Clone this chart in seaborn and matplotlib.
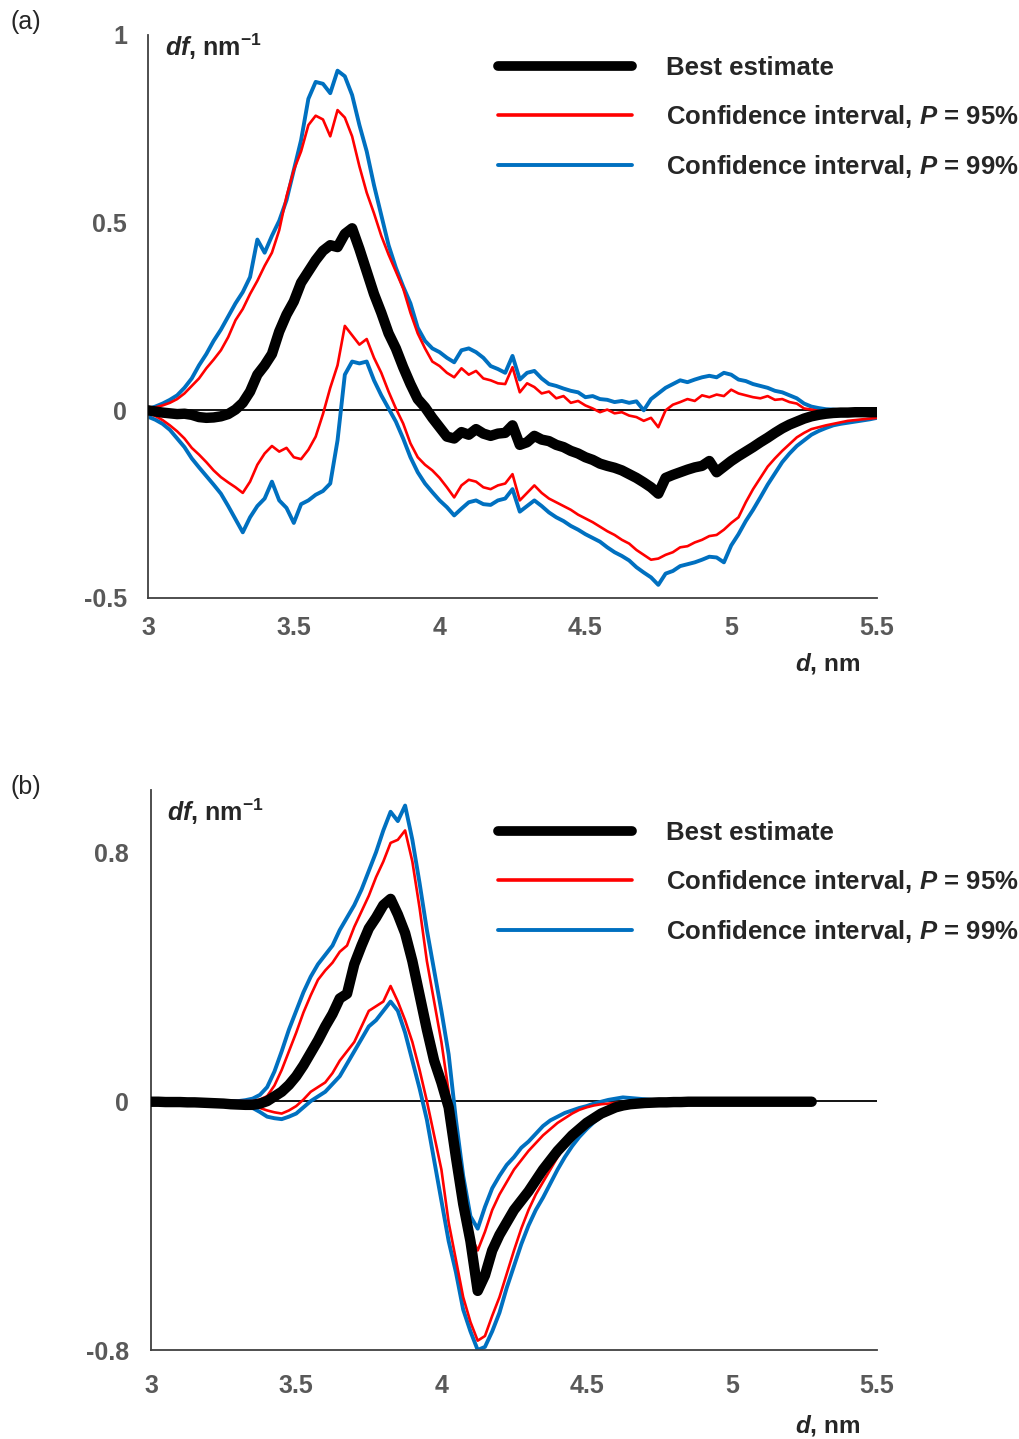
import numpy as np
import pandas as pd
import matplotlib
matplotlib.use("Agg")
import matplotlib.pyplot as plt
import seaborn as sns
from matplotlib.lines import Line2D

# ---------------- data: panel (a) ----------------
d_a = np.linspace(3.0, 5.5, 101)

best_a = [0.000, -0.003, -0.006, -0.008, -0.010, -0.009, -0.012, -0.018, -0.020, -0.019,
          -0.016, -0.010, 0.002, 0.020, 0.050, 0.095, 0.120, 0.150, 0.210, 0.255,
          0.290, 0.340, 0.370, 0.400, 0.425, 0.440, 0.435, 0.470, 0.485, 0.430,
          0.370, 0.310, 0.260, 0.205, 0.165, 0.115, 0.070, 0.030, 0.008, -0.020,
          -0.045, -0.070, -0.075, -0.058, -0.065, -0.050, -0.062, -0.068, -0.062, -0.060,
          -0.040, -0.092, -0.085, -0.068, -0.078, -0.082, -0.092, -0.098, -0.108, -0.115,
          -0.125, -0.132, -0.142, -0.148, -0.153, -0.160, -0.170, -0.180, -0.192, -0.205,
          -0.222, -0.180, -0.172, -0.165, -0.158, -0.152, -0.148, -0.135, -0.165, -0.150,
          -0.135, -0.122, -0.110, -0.098, -0.085, -0.073, -0.060, -0.048, -0.038, -0.030,
          -0.022, -0.016, -0.012, -0.009, -0.007, -0.006, -0.006, -0.005, -0.005, -0.005,
          -0.005]

ci95_hi_a = [0.003, 0.008, 0.013, 0.020, 0.030, 0.045, 0.065, 0.085, 0.112, 0.135,
             0.160, 0.195, 0.240, 0.270, 0.310, 0.345, 0.385, 0.420, 0.480, 0.570,
             0.640, 0.690, 0.760, 0.785, 0.775, 0.730, 0.800, 0.780, 0.730, 0.650,
             0.580, 0.525, 0.465, 0.415, 0.370, 0.325, 0.260, 0.205, 0.165, 0.130,
             0.118, 0.100, 0.088, 0.112, 0.095, 0.105, 0.085, 0.080, 0.072, 0.070,
             0.115, 0.048, 0.072, 0.062, 0.045, 0.050, 0.032, 0.038, 0.020, 0.025,
             0.013, 0.005, -0.005, 0.002, -0.008, -0.005, -0.014, -0.018, -0.028, -0.020,
             -0.045, 0.000, 0.015, 0.022, 0.030, 0.025, 0.040, 0.035, 0.042, 0.038,
             0.055, 0.045, 0.040, 0.035, 0.032, 0.038, 0.028, 0.030, 0.022, 0.018,
             0.005, 0.002, -0.002, -0.003, -0.004, -0.005, -0.006, -0.007, -0.007, -0.007,
             -0.007]

ci99_hi_a = [0.003, 0.010, 0.018, 0.028, 0.040, 0.060, 0.085, 0.120, 0.150, 0.185,
             0.215, 0.250, 0.285, 0.315, 0.355, 0.455, 0.420, 0.465, 0.505, 0.560,
             0.640, 0.720, 0.830, 0.875, 0.870, 0.845, 0.905, 0.890, 0.840, 0.760,
             0.690, 0.600, 0.520, 0.440, 0.380, 0.330, 0.285, 0.220, 0.185, 0.165,
             0.155, 0.140, 0.128, 0.160, 0.165, 0.155, 0.140, 0.118, 0.110, 0.100,
             0.145, 0.082, 0.100, 0.105, 0.085, 0.070, 0.065, 0.058, 0.052, 0.048,
             0.035, 0.038, 0.030, 0.028, 0.022, 0.025, 0.020, 0.024, 0.000, 0.030,
             0.045, 0.060, 0.070, 0.080, 0.075, 0.082, 0.088, 0.092, 0.088, 0.100,
             0.095, 0.082, 0.078, 0.070, 0.065, 0.060, 0.052, 0.048, 0.040, 0.032,
             0.018, 0.010, 0.006, 0.003, 0.002, 0.000, 0.000, -0.002, -0.003, -0.004,
             -0.005]

ci95_lo_a = [-0.007, -0.015, -0.026, -0.040, -0.056, -0.075, -0.100, -0.118, -0.138, -0.160,
             -0.178, -0.192, -0.205, -0.220, -0.190, -0.145, -0.115, -0.095, -0.110, -0.100,
             -0.125, -0.130, -0.105, -0.070, -0.010, 0.060, 0.120, 0.225, 0.200, 0.175,
             0.190, 0.140, 0.100, 0.050, 0.005, -0.035, -0.088, -0.125, -0.145, -0.160,
             -0.180, -0.205, -0.232, -0.200, -0.185, -0.190, -0.205, -0.210, -0.200, -0.195,
             -0.170, -0.240, -0.220, -0.200, -0.220, -0.235, -0.245, -0.255, -0.265, -0.278,
             -0.288, -0.298, -0.310, -0.322, -0.332, -0.345, -0.355, -0.372, -0.385, -0.398,
             -0.395, -0.385, -0.378, -0.365, -0.362, -0.352, -0.345, -0.335, -0.332, -0.318,
             -0.300, -0.285, -0.245, -0.210, -0.180, -0.150, -0.128, -0.108, -0.090, -0.072,
             -0.060, -0.050, -0.045, -0.040, -0.036, -0.032, -0.028, -0.026, -0.024, -0.022,
             -0.020]

ci99_lo_a = [-0.017, -0.025, -0.036, -0.052, -0.075, -0.098, -0.128, -0.152, -0.175, -0.198,
             -0.222, -0.255, -0.290, -0.325, -0.285, -0.255, -0.235, -0.190, -0.240, -0.260,
             -0.300, -0.250, -0.240, -0.225, -0.215, -0.195, -0.080, 0.095, 0.130, 0.125,
             0.130, 0.080, 0.040, 0.005, -0.030, -0.075, -0.125, -0.165, -0.195, -0.218,
             -0.240, -0.258, -0.280, -0.262, -0.245, -0.240, -0.250, -0.252, -0.240, -0.235,
             -0.210, -0.270, -0.255, -0.240, -0.255, -0.272, -0.285, -0.295, -0.308, -0.318,
             -0.330, -0.340, -0.350, -0.365, -0.378, -0.388, -0.400, -0.418, -0.432, -0.445,
             -0.465, -0.435, -0.428, -0.415, -0.410, -0.405, -0.398, -0.390, -0.392, -0.405,
             -0.360, -0.330, -0.295, -0.265, -0.232, -0.198, -0.168, -0.138, -0.115, -0.095,
             -0.080, -0.065, -0.055, -0.047, -0.040, -0.036, -0.033, -0.030, -0.027, -0.024,
             -0.020]

# ---------------- data: panel (b) ----------------
d_b = np.linspace(3.0, 5.275, 92)

best_b = [-0.002, -0.002, -0.003, -0.003, -0.003, -0.004, -0.004, -0.005, -0.006, -0.007,
          -0.008, -0.010, -0.011, -0.012, -0.012, -0.008, 0.000, 0.015, 0.030, 0.052,
          0.080, 0.115, 0.155, 0.195, 0.240, 0.280, 0.330, 0.345, 0.440, 0.500,
          0.555, 0.590, 0.630, 0.650, 0.600, 0.540, 0.450, 0.340, 0.230, 0.130,
          0.060, -0.020, -0.180, -0.330, -0.450, -0.610, -0.560, -0.480, -0.430, -0.390,
          -0.350, -0.320, -0.290, -0.255, -0.220, -0.190, -0.160, -0.135, -0.110, -0.090,
          -0.070, -0.055, -0.040, -0.030, -0.020, -0.014, -0.010, -0.008, -0.006, -0.005,
          -0.004, -0.004, -0.003, -0.003, -0.002, -0.002, -0.002, -0.002, -0.002, -0.002,
          -0.002, -0.002, -0.002, -0.002, -0.002, -0.002, -0.002, -0.002, -0.002, -0.002,
          -0.002, -0.002]

ci95_hi_b = [-0.002, -0.002, -0.002, -0.002, -0.002, -0.002, -0.001, -0.001, -0.001, -0.001,
             0.000, 0.000, 0.000, 0.000, 0.000, 0.005, 0.016, 0.050, 0.100, 0.160,
             0.220, 0.285, 0.340, 0.390, 0.420, 0.445, 0.480, 0.500, 0.560, 0.610,
             0.660, 0.720, 0.770, 0.830, 0.840, 0.870, 0.770, 0.620, 0.450, 0.320,
             0.190, 0.030, -0.130, -0.300, -0.430, -0.480, -0.420, -0.350, -0.300, -0.260,
             -0.220, -0.190, -0.160, -0.135, -0.110, -0.090, -0.070, -0.055, -0.040, -0.028,
             -0.020, -0.014, -0.010, -0.008, -0.006, -0.005, -0.004, -0.004, -0.003, -0.003,
             -0.003, -0.002, -0.002, -0.002, -0.002, -0.002, -0.002, -0.001, -0.001, -0.001,
             -0.001, -0.001, -0.001, -0.001, -0.001, -0.001, -0.001, -0.001, -0.001, -0.001,
             -0.001, -0.001]

ci99_hi_b = [0.000, 0.000, 0.000, 0.000, 0.000, 0.000, 0.000, 0.000, 0.000, 0.000,
             0.000, 0.000, 0.000, 0.003, 0.008, 0.020, 0.045, 0.095, 0.160, 0.230,
             0.290, 0.350, 0.400, 0.440, 0.470, 0.500, 0.550, 0.590, 0.630, 0.680,
             0.740, 0.800, 0.870, 0.930, 0.900, 0.950, 0.840, 0.700, 0.550, 0.420,
             0.290, 0.150, -0.060, -0.240, -0.370, -0.410, -0.340, -0.280, -0.240, -0.205,
             -0.180, -0.150, -0.130, -0.105, -0.080, -0.062, -0.050, -0.038, -0.030, -0.022,
             -0.016, -0.008, -0.002, 0.004, 0.008, 0.012, 0.010, 0.008, 0.006, 0.004,
             0.004, 0.003, 0.003, 0.003, 0.002, 0.002, 0.002, 0.002, 0.002, 0.002,
             0.002, 0.002, 0.002, 0.002, 0.002, 0.002, 0.002, 0.002, 0.002, 0.002,
             0.002, 0.002]

ci95_lo_b = [-0.003, -0.003, -0.003, -0.003, -0.004, -0.004, -0.004, -0.005, -0.005, -0.005,
             -0.006, -0.006, -0.006, -0.010, -0.015, -0.022, -0.030, -0.036, -0.040, -0.030,
             -0.016, 0.005, 0.030, 0.045, 0.060, 0.090, 0.130, 0.160, 0.190, 0.240,
             0.290, 0.305, 0.320, 0.370, 0.320, 0.260, 0.190, 0.100, 0.000, -0.110,
             -0.220, -0.390, -0.510, -0.630, -0.710, -0.770, -0.755, -0.690, -0.630, -0.555,
             -0.480, -0.410, -0.350, -0.300, -0.260, -0.220, -0.180, -0.145, -0.110, -0.085,
             -0.064, -0.045, -0.030, -0.022, -0.016, -0.012, -0.009, -0.007, -0.006, -0.004,
             -0.004, -0.004, -0.003, -0.003, -0.003, -0.003, -0.002, -0.002, -0.002, -0.002,
             -0.002, -0.002, -0.002, -0.002, -0.002, -0.002, -0.002, -0.002, -0.002, -0.002,
             -0.002, -0.002]

ci99_lo_b = [-0.005, -0.005, -0.005, -0.005, -0.006, -0.006, -0.007, -0.007, -0.008, -0.009,
             -0.009, -0.010, -0.010, -0.015, -0.022, -0.035, -0.050, -0.055, -0.058, -0.050,
             -0.040, -0.020, 0.000, 0.015, 0.030, 0.055, 0.080, 0.120, 0.160, 0.200,
             0.240, 0.260, 0.290, 0.320, 0.290, 0.220, 0.130, 0.040, -0.060, -0.190,
             -0.320, -0.450, -0.550, -0.670, -0.740, -0.800, -0.790, -0.740, -0.680, -0.600,
             -0.530, -0.460, -0.400, -0.350, -0.310, -0.265, -0.220, -0.180, -0.145, -0.115,
             -0.090, -0.068, -0.050, -0.036, -0.026, -0.018, -0.012, -0.008, -0.006, -0.004,
             -0.004, -0.004, -0.003, -0.003, -0.003, -0.003, -0.003, -0.002, -0.002, -0.002,
             -0.002, -0.002, -0.002, -0.002, -0.002, -0.002, -0.002, -0.002, -0.002, -0.002,
             -0.002, -0.002]

x_ticks = [3, 3.5, 4, 4.5, 5, 5.5]
x_ticklabels = ["3", "3.5", "4", "4.5", "5", "5.5"]
y_ticks_a = [-0.5, 0, 0.5, 1]
y_ticklabels_a = ["-0.5", "0", "0.5", "1"]
y_ticks_b = [-0.8, 0, 0.8]
y_ticklabels_b = ["-0.8", "0", "0.8"]

labels = ["Best estimate",
          r"Confidence interval, $\mathit{P}$ = 95%",
          r"Confidence interval, $\mathit{P}$ = 99%"]

# ---------------- style ----------------
sns.set_style("white")
plt.rcParams["font.family"] = ["Liberation Sans", "DejaVu Sans"]
plt.rcParams["mathtext.fontset"] = "custom"
plt.rcParams["mathtext.rm"] = "Liberation Sans:weight=bold"
plt.rcParams["mathtext.bf"] = "Liberation Sans:weight=bold"
plt.rcParams["mathtext.it"] = "Liberation Sans:style=italic:weight=bold"

RED = "#FF0000"
BLUE = "#0070C0"
TICKGRAY = "#595959"
SPINE = "#404040"

W, H = 1019, 1439
fig = plt.figure(figsize=(W / 100, H / 100), dpi=100)


def px_ax(l, t, r, b):
    return fig.add_axes([l / W, 1 - b / H, (r - l) / W, (b - t) / H])


def draw(ax, d, best, hi95, lo95, hi99, lo99, ylim, yt, ytl, xpad, ypad):
    df = pd.DataFrame({"d": d, "best": best, "hi95": hi95, "lo95": lo95,
                       "hi99": hi99, "lo99": lo99})
    ax.axhline(0, color="black", lw=1.3, zorder=1)
    for col, c, lw in [("hi99", BLUE, 2.8), ("lo99", BLUE, 2.8),
                       ("hi95", RED, 1.9), ("lo95", RED, 1.9)]:
        sns.lineplot(data=df, x="d", y=col, ax=ax, color=c, lw=lw,
                     estimator=None, sort=False, zorder=2)
    sns.lineplot(data=df, x="d", y="best", ax=ax, color="black", lw=7.5,
                 estimator=None, sort=False, zorder=3,
                 solid_capstyle="round", solid_joinstyle="round")
    ax.set_xlim(3, 5.5)
    ax.set_ylim(*ylim)
    ax.set_xticks(x_ticks)
    ax.set_xticklabels(x_ticklabels)
    ax.set_yticks(yt)
    ax.set_yticklabels(ytl)
    ax.set_xlabel("")
    ax.set_ylabel("")
    for s in ["top", "right"]:
        ax.spines[s].set_visible(False)
    for s in ["left", "bottom"]:
        ax.spines[s].set_color(SPINE)
        ax.spines[s].set_linewidth(1.3)
    ax.tick_params(axis="both", direction="in", length=6, width=1.2,
                   color=SPINE, labelcolor=TICKGRAY, labelsize=18)
    ax.tick_params(axis="x", pad=xpad)
    ax.tick_params(axis="y", pad=ypad)
    for t in ax.get_xticklabels() + ax.get_yticklabels():
        t.set_fontweight("bold")
    ax.set_facecolor("none")


ax_a = px_ax(148, 35, 877, 598)
draw(ax_a, d_a, best_a, ci95_hi_a, ci95_lo_a, ci99_hi_a, ci99_lo_a,
     (-0.5, 1.0), y_ticks_a, y_ticklabels_a, 13, 15)

ax_b = px_ax(151, 790, 877, 1350)
draw(ax_b, d_b, best_b, ci95_hi_b, ci95_lo_b, ci99_hi_b, ci99_lo_b,
     (-0.8, 1.0), y_ticks_b, y_ticklabels_b, 17, 16)

handles = [Line2D([], [], color="black", lw=7.0),
           Line2D([], [], color=RED, lw=2.6),
           Line2D([], [], color=BLUE, lw=2.8)]

for ax, top in [(ax_a, 56), (ax_b, 821)]:
    leg = ax.legend(handles, labels, loc="upper left",
                    bbox_to_anchor=(498 / W, 1 - top / H),
                    bbox_transform=fig.transFigure, frameon=False,
                    handlelength=5.2, handletextpad=1.32, labelspacing=0.9,
                    borderpad=0, borderaxespad=0,
                    prop={"size": 18.5, "weight": "bold"})

ylab = r"$\mathit{df}$, nm$^{-1}$"
xlab = r"$\mathit{d}$, nm"
for x, y, s, fs in [(165, 47, ylab, 18), (167, 812, ylab, 18),
                    (795, 663, xlab, 17.5), (795, 1425, xlab, 17.5)]:
    fig.text(x / W, 1 - y / H, s, fontsize=fs, fontweight="bold",
             va="center", ha="left")

fig.text(10 / W, 1 - 22 / H, "(a)", fontsize=18, va="center", ha="left")
fig.text(10 / W, 1 - 787 / H, "(b)", fontsize=18, va="center", ha="left")

fig.savefig("out.png", dpi=100, facecolor="white")
